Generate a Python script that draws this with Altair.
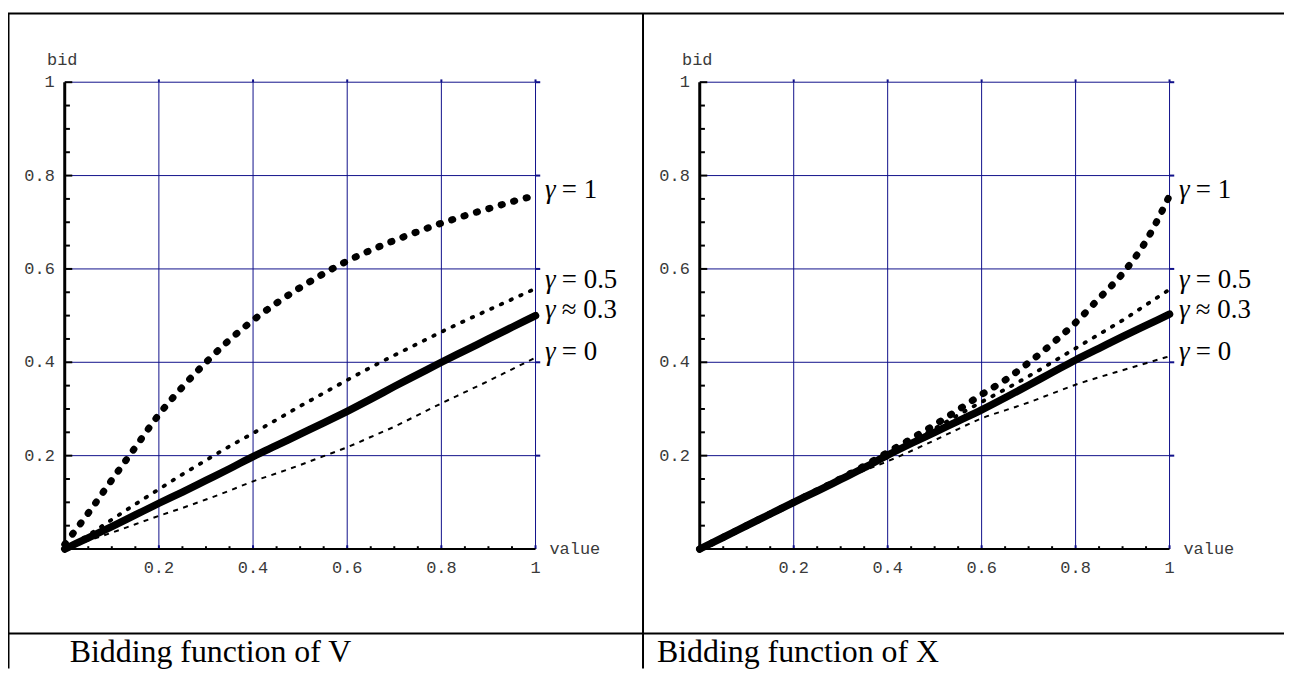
import altair as alt
import pandas as pd

# ---------------- data ----------------
value = [0, 0.05, 0.1, 0.15, 0.2, 0.25, 0.3, 0.35, 0.4, 0.45, 0.5,
         0.55, 0.6, 0.65, 0.7, 0.75, 0.8, 0.85, 0.9, 0.95, 1.0]

# Bidding function of V
v_gamma1 = [0.01, 0.077, 0.148, 0.218, 0.288, 0.347, 0.40, 0.448, 0.49, 0.527, 0.56,
            0.59, 0.617, 0.64, 0.661, 0.68, 0.698, 0.714, 0.729, 0.744, 0.757]
v_gamma05 = [0.0, 0.03, 0.063, 0.096, 0.128, 0.16, 0.19, 0.22, 0.248, 0.277, 0.306,
             0.334, 0.362, 0.389, 0.415, 0.44, 0.465, 0.489, 0.512, 0.535, 0.558]
v_gamma03 = [0.0, 0.024, 0.048, 0.073, 0.098, 0.122, 0.147, 0.172, 0.198, 0.222, 0.246,
             0.27, 0.295, 0.321, 0.348, 0.374, 0.40, 0.425, 0.45, 0.475, 0.5]
v_gamma0 = [0.0, 0.018, 0.035, 0.053, 0.071, 0.088, 0.106, 0.125, 0.145, 0.162, 0.18,
            0.199, 0.218, 0.24, 0.262, 0.287, 0.312, 0.336, 0.36, 0.385, 0.41]

# Bidding function of X
x_gamma1 = [0.0, 0.025, 0.05, 0.075, 0.1, 0.125, 0.151, 0.178, 0.207, 0.236, 0.266,
            0.298, 0.331, 0.362, 0.399, 0.44, 0.485, 0.537, 0.59, 0.66, 0.757]
x_gamma05 = [0.0, 0.025, 0.05, 0.075, 0.1, 0.125, 0.15, 0.176, 0.203, 0.23, 0.258,
             0.287, 0.315, 0.342, 0.37, 0.40, 0.43, 0.46, 0.49, 0.523, 0.556]
x_gamma03 = [0.0, 0.025, 0.05, 0.075, 0.1, 0.124, 0.149, 0.174, 0.201, 0.226, 0.25,
             0.274, 0.298, 0.324, 0.351, 0.378, 0.405, 0.43, 0.455, 0.479, 0.503]
x_gamma0 = [0.0, 0.025, 0.05, 0.075, 0.099, 0.123, 0.146, 0.168, 0.188, 0.21, 0.233,
            0.257, 0.28, 0.297, 0.314, 0.333, 0.352, 0.368, 0.383, 0.398, 0.413]

gamma_rest = ["= 1", "= 0.5", "\u2248 0.3", "= 0"]
label_y = [0.753, 0.559, 0.495, 0.405]
label_x = [1.02, 1.02, 1.02, 1.02]

grid_vals = [0.2, 0.4, 0.6, 0.8, 1.0]
tick_labels = ["0.2", "0.4", "0.6", "0.8", "1"]
minor_ticks = [0.05, 0.1, 0.15, 0.25, 0.3, 0.35, 0.45, 0.5,
               0.55, 0.65, 0.7, 0.75, 0.85, 0.9, 0.95]
x_title = "value"
y_title = "bid"
captions = ["Bidding function of V", "Bidding function of X"]

# ---------------- layout / style ----------------
W = 1282
H = 542
Y_RANGE = [542, 73]
NAVY = "#10108a"
GRAY = "#3a3a3a"
MONO = "Liberation Mono"
SERIF = "Liberation Serif"

STYLES = [
    dict(strokeWidth=2, strokeDash=[5, 5.5], strokeCap="butt"),       # gamma = 0
    dict(strokeWidth=7.5, strokeCap="round"),                          # gamma ~ 0.3
    dict(strokeWidth=3.8, strokeDash=[1.5, 9.2], strokeCap="round"),   # gamma = 0.5
    dict(strokeWidth=7, strokeDash=[1.2, 11.8], strokeCap="round"),    # gamma = 1
]


def panel(series, x_range):
    xs = alt.Scale(domain=[0, 1], range=x_range, nice=False, zero=False)
    ys = alt.Scale(domain=[0, 1], range=Y_RANGE, nice=False, zero=False)

    def X(f):
        return alt.X(f, scale=xs, axis=None)

    def Y(f):
        return alt.Y(f, scale=ys, axis=None)

    def XD(v):
        return alt.XDatum(v, scale=xs, axis=None)

    def YD(v):
        return alt.YDatum(v, scale=ys, axis=None)

    grid_df = pd.DataFrame({"g": grid_vals, "lab": tick_labels})
    minor_df = pd.DataFrame({"m": minor_ticks})
    one = pd.DataFrame({"k": [0]})

    layers = []
    # grid
    layers.append(alt.Chart(grid_df).mark_rule(color=NAVY, strokeWidth=1).encode(
        x=X("g:Q"), y=YD(0), y2=alt.Y2Datum(1.0)))
    layers.append(alt.Chart(grid_df).mark_rule(color=NAVY, strokeWidth=2).encode(
        x=X("g:Q"), y=YD(1.0), y2=alt.Y2Datum(1.006)))
    layers.append(alt.Chart(grid_df).mark_rule(color=NAVY, strokeWidth=2).encode(
        x=X("g:Q"), y=YD(0), y2=alt.Y2Datum(0.008)))
    layers.append(alt.Chart(grid_df).mark_rule(color=NAVY, strokeWidth=1).encode(
        y=Y("g:Q"), x=XD(0), x2=alt.X2Datum(1.0)))
    layers.append(alt.Chart(grid_df).mark_rule(color=NAVY, strokeWidth=2).encode(
        y=Y("g:Q"), x=XD(1.0), x2=alt.X2Datum(1.01)))

    # axis lines
    layers.append(alt.Chart(one).mark_rule(color="black", strokeWidth=3).encode(
        x=XD(0), y=YD(0), y2=alt.Y2Datum(1.0)))
    layers.append(alt.Chart(one).mark_rule(color="black", strokeWidth=2).encode(
        y=YD(0), x=XD(0), x2=alt.X2Datum(1.0)))
    # y ticks (pointing into the plot)
    layers.append(alt.Chart(minor_df).mark_rule(color="black", strokeWidth=2).encode(
        y=Y("m:Q"), x=XD(0), x2=alt.X2Datum(0.011)))
    layers.append(alt.Chart(grid_df).mark_rule(color="black", strokeWidth=2).encode(
        y=Y("g:Q"), x=XD(0), x2=alt.X2Datum(0.016)))
    # x ticks
    layers.append(alt.Chart(minor_df).mark_rule(color="black", strokeWidth=2).encode(
        x=X("m:Q"), y=YD(0), y2=alt.Y2Datum(0.006)))

    # tick labels
    layers.append(alt.Chart(grid_df).mark_text(
        font=MONO, fontSize=17, color=GRAY, align="right", baseline="middle", dx=-10
    ).encode(y=Y("g:Q"), x=XD(0), text="lab:N"))
    layers.append(alt.Chart(grid_df).mark_text(
        font=MONO, fontSize=17, color=GRAY, align="center", baseline="middle", dy=19
    ).encode(x=X("g:Q"), y=YD(0), text="lab:N"))
    # axis titles
    layers.append(alt.Chart(one).mark_text(
        font=MONO, fontSize=17, color=GRAY, align="center", baseline="alphabetic",
        dx=-2.5, dy=-17,
    ).encode(x=XD(0), y=YD(1.0), text=alt.value(y_title)))
    layers.append(alt.Chart(one).mark_text(
        font=MONO, fontSize=17, color=GRAY, align="left", baseline="middle", dx=14,
    ).encode(x=XD(1.0), y=YD(0), text=alt.value(x_title)))

    # curves
    for vals, style in zip(series, STYLES):
        df = pd.DataFrame({"value": value, "bid": vals})
        layers.append(
            alt.Chart(df).mark_line(color="black", interpolate="monotone", **style).encode(
                x=X("value:Q"), y=Y("bid:Q"))
        )

    # curve labels
    lab_df = pd.DataFrame({"lx": label_x, "ly": label_y, "rest": gamma_rest})
    layers.append(alt.Chart(lab_df).mark_text(
        font=SERIF, fontSize=27, fontStyle="italic", align="left", baseline="alphabetic",
        color="black",
    ).encode(x=X("lx:Q"), y=Y("ly:Q"), text=alt.value("\u03b3")))
    layers.append(alt.Chart(lab_df).mark_text(
        font=SERIF, fontSize=27, align="left", baseline="alphabetic", dx=17, color="black",
    ).encode(x=X("lx:Q"), y=Y("ly:Q"), text="rest:N"))
    return alt.layer(*layers)


left = panel([v_gamma0, v_gamma03, v_gamma05, v_gamma1], [57, 530])
right = panel([x_gamma0, x_gamma03, x_gamma05, x_gamma1], [695, 1167])

one_row = pd.DataFrame({"k": [0]})


def border(x, x2, y, y2):
    return alt.Chart(one_row).mark_rule(color="black", strokeWidth=2).encode(
        x=alt.value(x), x2=alt.value(x2), y=alt.value(y), y2=alt.value(y2)
    )


def caption(txt, x):
    return alt.Chart(one_row).mark_text(
        font=SERIF, fontSize=32, align="left", baseline="alphabetic", color="black"
    ).encode(x=alt.value(x), y=alt.value(656), text=alt.value(txt))


deco = alt.layer(
    border(0, W, 4, 4),
    border(0.5, 0.5, 4, 662),
    border(638, 638, 4, 662),
    border(0, W, 627, 627),
    caption(captions[0], 62),
    caption(captions[1], 652),
)

chart = (
    alt.layer(left, right, deco)
    .resolve_scale(x="independent", y="independent")
    .properties(
        width=W,
        height=H,
        autosize=alt.AutoSizeParams(type="none"),
        padding={"left": 0, "top": 0, "right": 0, "bottom": 120},
    )
    .configure_view(strokeWidth=0)
)

chart.save("out.html", embed_options={"renderer": "svg", "actions": False})
